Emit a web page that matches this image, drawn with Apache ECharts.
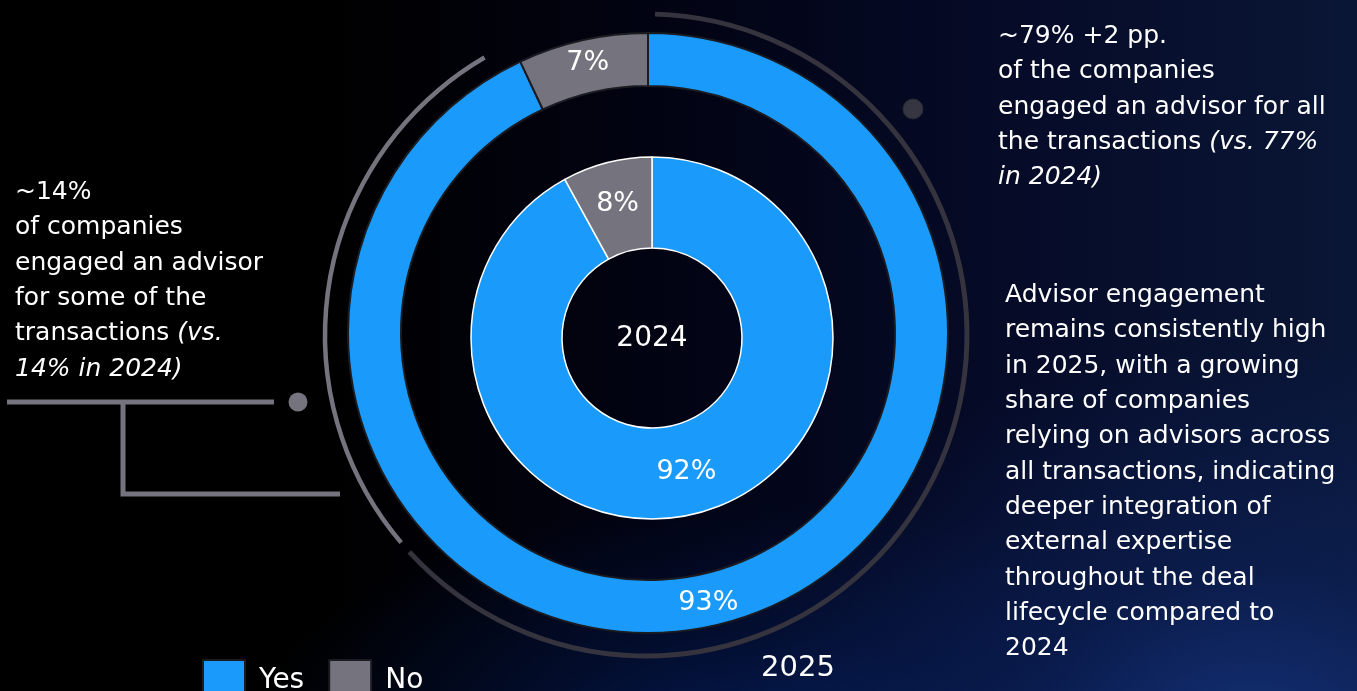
<!DOCTYPE html>
<html>
<head>
<meta charset="utf-8">
<script src="https://cdn.jsdelivr.net/npm/echarts@6/dist/echarts.min.js"></script>
<style>
  html, body { margin: 0; padding: 0; width: 1357px; height: 691px; overflow: hidden; }
  body {
    background:
      radial-gradient(ellipse 520px 420px at 1250px 760px, rgba(22,58,140,0.8) 0%, rgba(14,38,100,0.5) 45%, rgba(8,20,60,0) 100%),
      radial-gradient(ellipse 520px 260px at 760px 760px, rgba(4,30,90,0.9) 0%, rgba(3,22,70,0.5) 50%, rgba(2,12,40,0) 100%),
      linear-gradient(90deg, #000000 0%, #000000 24%, #020312 48%, #050a26 72%, #0a1636 100%);
  }
  #chart { width: 1357px; height: 691px; }
</style>
</head>
<body>
<div id="chart"></div>
<script>
// Advisor engagement: share of companies using an advisor, 2024 (inner) vs 2025 (outer)
const categories = ['Yes', 'No'];
const values2025 = [93, 7];
const values2024 = [92, 8];
const ringYears = ['2024', '2025'];

const BLUE = '#1a9bfc';
const GREY = '#75747e';
const FONT = '"DejaVu Sans", "Noto Sans", sans-serif';

const notesTopRight = [
  '~79% +2 pp.',
  'of the companies',
  'engaged an advisor for all',
  'the transactions {i|(vs. 77%}',
  '{i|in 2024)}'
];
const notesLeft = [
  '~14%',
  'of companies',
  'engaged an advisor',
  'for some of the',
  'transactions {i|(vs.}',
  '{i|14% in 2024)}'
];
const notesBottomRight = [
  'Advisor engagement',
  'remains consistently high',
  'in 2025, with a growing',
  'share of companies',
  'relying on advisors across',
  'all transactions, indicating',
  'deeper integration of',
  'external expertise',
  'throughout the deal',
  'lifecycle compared to',
  '2024'
];

const chart = echarts.init(document.getElementById('chart'), null, { renderer: 'canvas' });

function toData(vals) {
  return categories.map((c, i) => ({
    name: c,
    value: vals[i],
    itemStyle: { color: i === 0 ? BLUE : GREY }
  }));
}

function noteBlock(lines, x, y) {
  return {
    type: 'text',
    left: x,
    top: y,
    silent: true,
    style: {
      text: lines.join('\n'),
      fill: '#ffffff',
      font: '25px ' + FONT,
      lineHeight: 35.3,
      rich: {
        i: { fontStyle: 'italic', fontSize: 25, fontFamily: FONT, lineHeight: 35.3, fill: '#ffffff' }
      }
    }
  };
}

const deg = Math.PI / 180;

const option = {
  backgroundColor: 'transparent',
  animation: false,
  legend: {
    data: categories,
    left: 202,
    top: 659,
    padding: 0,
    itemWidth: 42,
    itemHeight: 42,
    itemGap: 24,
    icon: 'rect',
    selectedMode: false,
    textStyle: { color: '#ffffff', fontSize: 28, fontFamily: FONT, padding: [0, 0, 0, 9] }
  },
  series: [
    {
      name: ringYears[1],
      type: 'pie',
      center: [648, 333],
      radius: [247, 300],
      startAngle: 90,
      clockwise: true,
      silent: true,
      itemStyle: { borderColor: '#1b1b22', borderWidth: 2 },
      label: {
        show: true,
        position: 'inside',
        formatter: '{c}%',
        color: '#ffffff',
        fontSize: 27,
        fontFamily: FONT
      },
      labelLine: { show: false },
      data: toData(values2025)
    },
    {
      name: ringYears[0],
      type: 'pie',
      center: [652, 338],
      radius: [90, 181],
      startAngle: 90,
      clockwise: true,
      silent: true,
      itemStyle: { borderColor: '#ffffff', borderWidth: 1.5 },
      label: {
        show: true,
        position: 'inside',
        formatter: '{c}%',
        color: '#ffffff',
        fontSize: 27,
        fontFamily: FONT
      },
      labelLine: { show: false },
      data: toData(values2024)
    }
  ],
  graphic: [
    // decorative guide arcs around the 2025 ring
    {
      type: 'arc', silent: true, z: 1,
      shape: { cx: 646, cy: 335, r: 321, startAngle: -88.4 * deg, endAngle: 137.5 * deg, clockwise: true },
      style: { stroke: '#35343e', lineWidth: 5, fill: null }
    },
    {
      type: 'arc', silent: true, z: 1,
      shape: { cx: 646, cy: 335, r: 321, startAngle: 139.7 * deg, endAngle: 239.8 * deg, clockwise: true },
      style: { stroke: '#75747e', lineWidth: 4.5, fill: null }
    },
    // marker dots
    {
      type: 'circle', silent: true,
      shape: { cx: 913, cy: 109, r: 10 },
      style: { fill: '#363642', stroke: '#2a2a34', lineWidth: 1 }
    },
    {
      type: 'circle', silent: true,
      shape: { cx: 298, cy: 402, r: 9.5 },
      style: { fill: '#75747e' }
    },
    // bracket connector on the left
    {
      type: 'polyline', silent: true,
      shape: { points: [[7, 402], [274, 402]] },
      style: { stroke: '#75747e', lineWidth: 5, fill: null }
    },
    {
      type: 'polyline', silent: true,
      shape: { points: [[123, 402], [123, 494], [340, 494]] },
      style: { stroke: '#75747e', lineWidth: 5, fill: null, lineJoin: 'miter' }
    },
    // ring captions
    {
      type: 'text', silent: true,
      style: {
        text: ringYears[0], x: 652, y: 339,
        align: 'center', verticalAlign: 'middle',
        fill: '#ffffff', font: '28px ' + FONT
      }
    },
    {
      type: 'text', silent: true,
      style: {
        text: ringYears[1], x: 798, y: 668,
        align: 'center', verticalAlign: 'middle',
        fill: '#ffffff', font: '29px ' + FONT
      }
    },
    noteBlock(notesTopRight, 998, 19),
    noteBlock(notesLeft, 15, 175),
    noteBlock(notesBottomRight, 1005, 278)
  ]
};

chart.setOption(option);
</script>
</body>
</html>
